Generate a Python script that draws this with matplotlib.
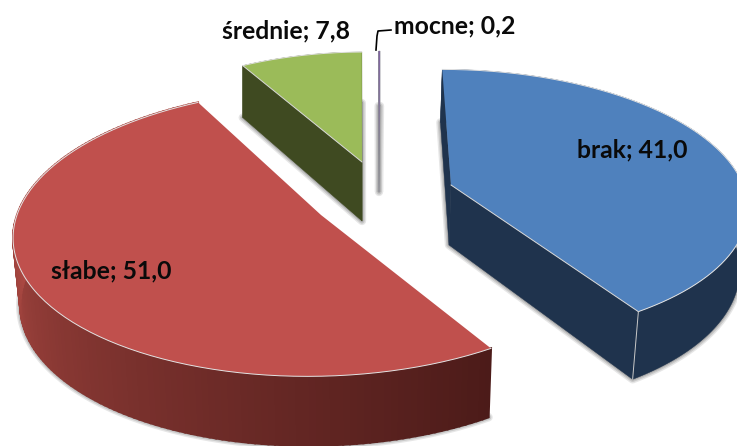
import numpy as np
import matplotlib
matplotlib.use('Agg')
import matplotlib.pyplot as plt
from matplotlib.patches import Polygon

# data
labels = ['brak', 'słabe', 'średnie', 'mocne']
values = [41.0, 51.0, 7.8, 0.2]

# colours
top_colors = ['#4F81BD', '#C0504D', '#9BBB59', '#8064A2']
side_colors = ['#1F334D', None, '#3F4A21', '#8a8a92']
red_side_left = np.array([0xAA, 0x48, 0x42]) / 255
red_side_right = np.array([0x4C, 0x1B, 0x19]) / 255

# projection of every exploded slice: apex x, y, width, skew, height top, perspective,
# then for the lower face: shift x, shift y, width scale, height
geometry = [
    (451, 185, 292, 10, 132, 0.142, -2, 60, 0.98, 140),
    (321, 215, 304, -12, 142, 0.12, 1, 67, 0.98, 144),
    (362, 162, 253, -3, 110, 0.0, 0, 59, 1.0, 118),
    (379, 155, 110, -1, 104, 0.0, 0, 37, 1.0, 86),
]

# label anchors
label_pos = [(577, 150), (51, 271), (222, 31), (394, 26)]
leader_x = [376, 377, 378, 391]
leader_y = [50, 36, 31, 30]


def project(theta, g, lower=False):
    cx, cy, a, b, c, k, sx, sy, s, c2 = g
    u = np.sin(np.radians(theta))
    v = -np.cos(np.radians(theta))
    w = 1 - k * v
    if lower:
        return cx + sx + s * (a * u + b * v) / w, cy + sy + c2 * v / w
    return cx + (a * u + b * v) / w, cy + c * v / w


fig = plt.figure(figsize=(7.37, 4.46), dpi=100)
ax = fig.add_axes([0, 0, 1, 1])
ax.set_xlim(0, 737)
ax.set_ylim(446, 0)
ax.axis('off')

edges = np.cumsum([0] + values) / sum(values) * 360

for i in range(len(values)):
    g = geometry[i]
    th = np.linspace(edges[i], edges[i + 1], 160)
    tx, ty = project(th, g)
    bx, by = project(th, g, lower=True)
    apex_t = (g[0], g[1])
    apex_b = (g[0] + g[6], g[1] + g[7])

    # soft shadow round the lower face
    low = np.column_stack([np.r_[apex_b[0], bx], np.r_[apex_b[1], by]])
    for lw, alpha in [(6, 0.18), (4, 0.25), (2, 0.35)]:
        ax.add_patch(Polygon(low, closed=True, fc='#777777', ec='#777777', lw=lw,
                             alpha=alpha, joinstyle='round', zorder=1 + i * 0.01))

    z = 2 + i * 0.1
    if side_colors[i] is not None:
        for j in [0, -1]:
            wall = [apex_t, (tx[j], ty[j]), (bx[j], by[j]), apex_b]
            ax.add_patch(Polygon(wall, closed=True, fc=side_colors[i], ec=side_colors[i], lw=0.3, zorder=z))
        outer = np.column_stack([np.r_[tx, bx[::-1]], np.r_[ty, by[::-1]]])
        ax.add_patch(Polygon(outer, closed=True, fc=side_colors[i], ec=side_colors[i], lw=0.3, zorder=z))
    else:
        # graded outer wall of the red slice
        for j in range(len(th) - 1):
            f = np.clip((270 - th[j]) / (270 - th[0]), 0, 1) ** 0.9
            col = red_side_left * (1 - f) + red_side_right * f
            quad = [(tx[j], ty[j]), (tx[j + 1], ty[j + 1]), (bx[j + 1], by[j + 1]), (bx[j], by[j])]
            ax.add_patch(Polygon(quad, closed=True, fc=col, ec=col, lw=1.5, zorder=z))

    top = np.column_stack([np.r_[apex_t[0], tx], np.r_[apex_t[1], ty]])
    ax.add_patch(Polygon(top, closed=True, fc=top_colors[i], ec='none', zorder=z + 0.05))

    # thin light rim
    if i != 3:
        ax.plot(tx, ty, color='#e4e4e4', lw=0.7, zorder=z + 0.06)
    if i == 0:
        ax.plot([apex_t[0], tx[-1]], [apex_t[1], ty[-1]], color='#d8d8d8', lw=0.7, zorder=z + 0.06)
        ax.plot([tx[-1], bx[-1]], [ty[-1], by[-1]], color='#c8c8c8', lw=0.7, zorder=z + 0.06)
    if i == 2:
        ax.plot([apex_t[0], tx[0]], [apex_t[1], ty[0]], color='#d8d8d8', lw=0.7, zorder=z + 0.06)

for name, val, (x, y) in zip(labels, values, label_pos):
    txt = f'{name}; {val:.1f}'.replace('.', ',')
    ax.text(x, y, txt, fontsize=17.8, fontweight='bold', family='Lato', color='#0a0a0a',
            ha='left', va='center', zorder=10)

ax.plot(leader_x, leader_y, color='black', lw=1.2, zorder=9)

fig.savefig('out.png', dpi=100)
